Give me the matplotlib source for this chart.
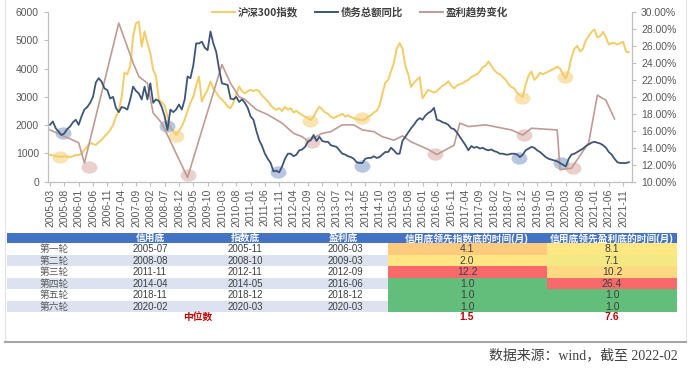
import matplotlib
matplotlib.use("Agg")
import matplotlib.pyplot as plt
from matplotlib.patches import Rectangle
from matplotlib.lines import Line2D
from matplotlib.path import Path
from matplotlib.transforms import Affine2D

plt.rcParams['font.family'] = ['Liberation Sans', 'Noto Sans CJK SC', 'DejaVu Sans']

# ---------------- data ----------------
start_year, start_month = 2005, 3

# CSI300 index (left axis), month offsets from 2005-03
csi_m = list(range(0, 203))
csi_v = [950, 930, 900, 890, 880, 900, 880, 870, 900, 950, 940, 1000,
         1120, 1250, 1370, 1330, 1300, 1400, 1480, 1600, 1700, 1830, 2000, 2300,
         2500, 3000, 3850, 3800, 4100, 5130, 5600, 5660, 4780, 5310, 4900, 4540,
         3960, 3720, 2900, 2800, 2700, 2300, 1900, 1800, 1650, 1800, 1950, 2200,
         2500, 2800, 3000, 3400, 3710, 2830, 3070, 3250, 3540, 3300, 3150, 3000,
         2900, 2800, 2650, 2600, 2800, 3100, 3370, 3200, 3120, 3200, 3250, 3200,
         3250, 3200, 3050, 2950, 2850, 2700, 2600, 2540, 2600, 2500, 2650, 2550,
         2600, 2450, 2500, 2420, 2350, 2300, 2250, 2180, 2300, 2500, 2650, 2550,
         2450, 2400, 2300, 2250, 2300, 2350, 2400, 2300, 2350, 2280, 2250, 2200,
         2200, 2180, 2200, 2300, 2350, 2450, 2500, 2700, 3100, 3500, 3600, 3900,
         4200, 4700, 4900, 4700, 4100, 3800, 3350, 3500, 3600, 3700, 2950, 3100,
         3250, 3200, 3150, 3200, 3300, 3400, 3450, 3550, 3400, 3300, 3400, 3450,
         3480, 3550, 3600, 3700, 3750, 3800, 3900, 4050, 4100, 4250, 4100, 3950,
         3850, 3800, 3700, 3600, 3450, 3350, 3300, 3150, 3050, 3000, 3450, 3750,
         3900, 3600, 3700, 3850, 3800, 3850, 3900, 3950, 4000, 4070, 4000, 3800,
         3650, 3950, 4400, 4700, 4800, 4600, 4700, 5000, 5150, 5300, 5380, 5100,
         5150, 5300, 5100, 4850, 4900, 4900, 4850, 4900, 4950, 4600, 4580]

# Debt total YoY (right axis, %)
debt_m = list(range(0, 203))
debt_v = [16.7, 17.1, 16.3, 15.9, 15.5, 15.7, 16.2, 16.5, 17.0, 17.3, 16.7, 17.7,
          18.5, 18.8, 19.3, 20.0, 21.7, 22.2, 21.8, 21.0, 20.8, 19.8, 20.0, 18.7,
          18.2, 18.8, 18.7, 18.5, 19.7, 21.2, 20.7, 20.4, 19.7, 21.2, 19.7, 21.6,
          19.3, 19.7, 19.5, 18.8, 17.7, 16.1, 18.5, 18.2, 18.5, 19.1, 18.5, 19.7,
          22.4, 22.2, 23.7, 26.3, 26.3, 26.5, 25.8, 25.5, 27.7, 26.3, 25.3, 23.3,
          21.6, 21.5, 21.4, 19.8, 19.7, 20.0, 19.4, 19.7, 19.3, 18.7, 17.7, 17.3,
          16.0, 14.9, 14.2, 13.3, 12.7, 12.2, 11.2, 11.3, 11.1, 11.8, 12.7, 13.3,
          13.3, 13.0, 13.2, 13.7, 13.8, 14.1, 14.7, 14.9, 15.5, 14.8, 15.3, 14.8,
          14.7, 14.7, 14.3, 14.2, 14.1, 13.7, 13.3, 13.2, 13.0, 12.9, 12.7, 12.3,
          12.2, 12.2, 12.7, 12.8, 12.8, 13.0, 12.8, 12.9, 13.2, 13.5, 13.5, 14.0,
          13.7, 13.3, 13.3, 14.8, 15.3, 15.8, 16.3, 16.7, 17.2, 17.5, 17.3, 17.8,
          18.1, 18.3, 18.7, 17.3, 17.2, 17.0, 16.9, 16.7, 16.3, 16.2, 15.8, 15.3,
          14.8, 14.3, 13.7, 14.2, 14.0, 14.1, 13.9, 14.0, 13.8, 13.7, 13.8, 13.6,
          13.5, 13.3, 13.3, 13.2, 13.2, 13.3, 13.3, 13.2, 12.9, 13.2, 13.7, 13.9,
          14.1, 14.0, 13.7, 13.5, 13.2, 12.9, 12.7, 12.6, 12.5, 12.4, 12.2, 12.0,
          11.8, 12.7, 13.2, 13.3, 13.5, 13.7, 13.9, 14.2, 14.4, 14.6, 14.7, 14.6,
          14.5, 14.3, 14.0, 13.5, 13.2, 12.7, 12.3, 12.2, 12.2, 12.2, 12.3]

# Profit trend (right axis, %), vertices of the polyline
profit_m = [0, 8, 10, 12, 24, 29, 31, 34, 36, 39, 48, 60, 63, 66, 68, 72, 76, 81, 85,
            88, 90, 95, 98, 102, 106, 109, 113, 116, 120, 123, 126, 130, 132, 135,
            141, 143, 146, 152, 158, 161, 165, 168, 177, 178, 182, 188, 191, 194, 197]
profit_v = [16.1, 14.9, 14.6, 12.2, 28.7, 24.0, 22.4, 21.6, 18.1, 16.9, 10.5, 23.8,
            21.6, 20.0, 19.7, 18.5, 17.9, 16.9, 15.7, 15.3, 14.8, 15.7, 15.9, 16.7,
            16.7, 16.1, 15.9, 15.3, 14.9, 15.4, 14.7, 14.1, 13.8, 13.2, 14.3, 16.9,
            16.5, 16.7, 16.3, 16.1, 15.5, 16.3, 16.1, 11.4, 11.6, 14.6, 20.2, 19.6, 17.4]

# highlighted bottoms
debt_bot_m = [4.5, 41, 79.6, 109, 163.5, 178.4]
debt_bot_v = [15.7, 16.6, 11.15, 11.8, 12.8, 12.2]
csi_bot_m = [3.5, 44, 90.8, 109, 164.7, 179.7]
csi_bot_v = [880, 1620, 2150, 2250, 2970, 3700]
prof_bot_m = [13.6, 48.2, 91.4, 134.4, 165.5, 182.5]
prof_bot_v = [11.7, 10.8, 14.7, 13.3, 15.5, 11.6]

series_names = ['沪深300指数', '债务总额同比', '盈利趋势变化']

# table
tbl_rounds = ['第一轮', '第二轮', '第三轮', '第四轮', '第五轮', '第六轮']
tbl_credit = ['2005-07', '2008-08', '2011-11', '2014-04', '2018-11', '2020-02']
tbl_index = ['2005-11', '2008-10', '2012-11', '2014-05', '2018-12', '2020-03']
tbl_profit = ['2006-03', '2009-03', '2012-09', '2016-06', '2018-12', '2020-03']
lead_index = [4.1, 2.0, 12.2, 1.0, 1.0, 1.0]
lead_profit = [8.1, 7.1, 10.2, 26.4, 1.0, 1.0]
median_index = 1.5
median_profit = 7.6
tbl_headers = ['信用底', '指数底', '盈利底', '信用底领先指数底的时间(月)', '信用底领先盈利底的时间(月)']
source_text = '数据来源：wind，截至 2022-02'

# ---------------- figure ----------------
W, H = 700, 370
fig = plt.figure(figsize=(7, 3.7), dpi=100)


def fx(x):
    return x / W


def fy(y):
    return 1 - y / H


ax = fig.add_axes([fx(48), fy(181.7), fx(632) - fx(48), fy(12) - fy(181.7)])
ax2 = ax.twinx()

C_Y = '#F2CC66'
C_B = '#3E5577'
C_P = '#BF9B94'

ax.plot(csi_m, csi_v, color=C_Y, lw=1.4, zorder=2)
ax2.plot(debt_m, debt_v, color=C_B, lw=1.3, zorder=3)
ax2.plot(profit_m, profit_v, color=C_P, lw=1.2, zorder=2)

ell = Path.unit_circle().transformed(Affine2D().scale(1, 0.78))
ax.scatter(csi_bot_m, csi_bot_v, s=130, marker=ell, color='#F5CE72', alpha=0.55, lw=0, zorder=1)
ax2.scatter(debt_bot_m, debt_bot_v, s=130, marker=ell, color='#7D9AC6', alpha=0.55, lw=0, zorder=1)
ax2.scatter(prof_bot_m, prof_bot_v, s=130, marker=ell, color='#D8ABA4', alpha=0.55, lw=0, zorder=1)

ax.set_xlim(-0.7, 203.1)
ax.set_ylim(0, 6000)
ax2.set_ylim(10, 30)
ax.set_yticks(range(0, 6001, 1000))
ax2.set_yticks(range(10, 31, 2))
ax2.set_yticklabels([f'{v:.2f}%' for v in range(10, 31, 2)])

tick_pos = list(range(0, 201, 5))
tick_lab = []
for m in tick_pos:
    yy = start_year + (start_month - 1 + m) // 12
    mm = (start_month - 1 + m) % 12 + 1
    tick_lab.append(f'{yy}-{mm:02d}')
ax.set_xticks(tick_pos)
ax.set_xticklabels(tick_lab, rotation=90)

spc = '#BFBFBF'
for a in (ax, ax2):
    a.spines['top'].set_visible(False)
    for s in ('left', 'right', 'bottom'):
        a.spines[s].set_color(spc)
        a.spines[s].set_linewidth(0.8)
    a.tick_params(colors=spc, labelcolor='#595959', labelsize=7.5, length=3, width=0.8)
ax.tick_params(axis='x', pad=2)

handles = [Line2D([], [], color=C_Y, lw=1.4), Line2D([], [], color=C_B, lw=1.4),
           Line2D([], [], color=C_P, lw=1.4)]
fig.legend(handles, series_names, loc='center', bbox_to_anchor=(fx(360), fy(12)),
           ncol=3, frameon=False, handlelength=2.2, handletextpad=0.3, columnspacing=1.6,
           prop={'size': 7.5, 'weight': 'bold', 'family': ['Noto Sans CJK SC']},
           labelcolor='#404040')

# ---------------- table ----------------
def rect(x0, y0, x1, y1, color):
    fig.add_artist(Rectangle((fx(x0), fy(y1)), fx(x1) - fx(x0), fy(y0) - fy(y1),
                             transform=fig.transFigure, color=color, lw=0))


def txt(x, y, s, **kw):
    base = dict(ha='center', va='center', fontsize=7, color='#404040',
                family=['Liberation Sans', 'Noto Sans CJK SC'])
    base.update(kw)
    fig.text(fx(x), fy(y), s, **base)


rect(7, 233, 677, 243.3, '#4472C4')
hdr_x = [150, 245, 343, 467, 612]
for x, s in zip(hdr_x, tbl_headers):
    txt(x, 238.3, s, color='white', weight='bold')

green = (99, 190, 123)
yellow = (255, 235, 132)
red = (248, 105, 107)


def scale_color(v, lo, mid, hi):
    if v <= mid:
        t = 0 if mid == lo else (v - lo) / (mid - lo)
        c = [green[i] + (yellow[i] - green[i]) * t for i in range(3)]
    else:
        t = (v - mid) / (hi - mid)
        c = [yellow[i] + (red[i] - yellow[i]) * t for i in range(3)]
    return tuple(ci / 255 for ci in c)


row_h = 11.5
y0 = 243.3
for i in range(6):
    yt = y0 + i * row_h
    yc = yt + row_h / 2
    if i % 2 == 1:
        rect(7, yt, 388, yt + row_h, '#DCE2F0')
    rect(388, yt, 547, yt + row_h,
         scale_color(lead_index[i], min(lead_index), median_index, max(lead_index)))
    rect(547, yt, 677, yt + row_h,
         scale_color(lead_profit[i], min(lead_profit), median_profit, max(lead_profit)))
    txt(54, yc, tbl_rounds[i], color='#595959')
    txt(150, yc, tbl_credit[i])
    txt(245, yc, tbl_index[i])
    txt(345, yc, tbl_profit[i])
    txt(467, yc, f'{lead_index[i]:.1f}', fontsize=7.5)
    txt(612, yc, f'{lead_profit[i]:.1f}', fontsize=7.5)

yc = y0 + 6 * row_h + 5
txt(198, yc, '中位数', color='#C00000', weight='bold')
txt(467, yc, f'{median_index:.1f}', color='#C00000', weight='bold', fontsize=7.5)
txt(612, yc, f'{median_profit:.1f}', color='#C00000', weight='bold', fontsize=7.5)

# frame
fig.add_artist(Line2D([fx(5), fx(5)], [fy(0), fy(342)], transform=fig.transFigure,
                      color='#E3E3E3', lw=0.8))
fig.add_artist(Line2D([fx(686), fx(686)], [fy(0), fy(342)], transform=fig.transFigure,
                      color='#E3E3E3', lw=0.8))
fig.add_artist(Line2D([fx(5), fx(686)], [fy(342), fy(342)], transform=fig.transFigure,
                      color='#A6A6A6', lw=1.5))

fig.text(fx(678), fy(355), source_text, ha='right', va='center', fontsize=10,
         color='#404040', family=['Liberation Serif', 'Noto Sans CJK SC'])

fig.savefig('out.png', dpi=100)
